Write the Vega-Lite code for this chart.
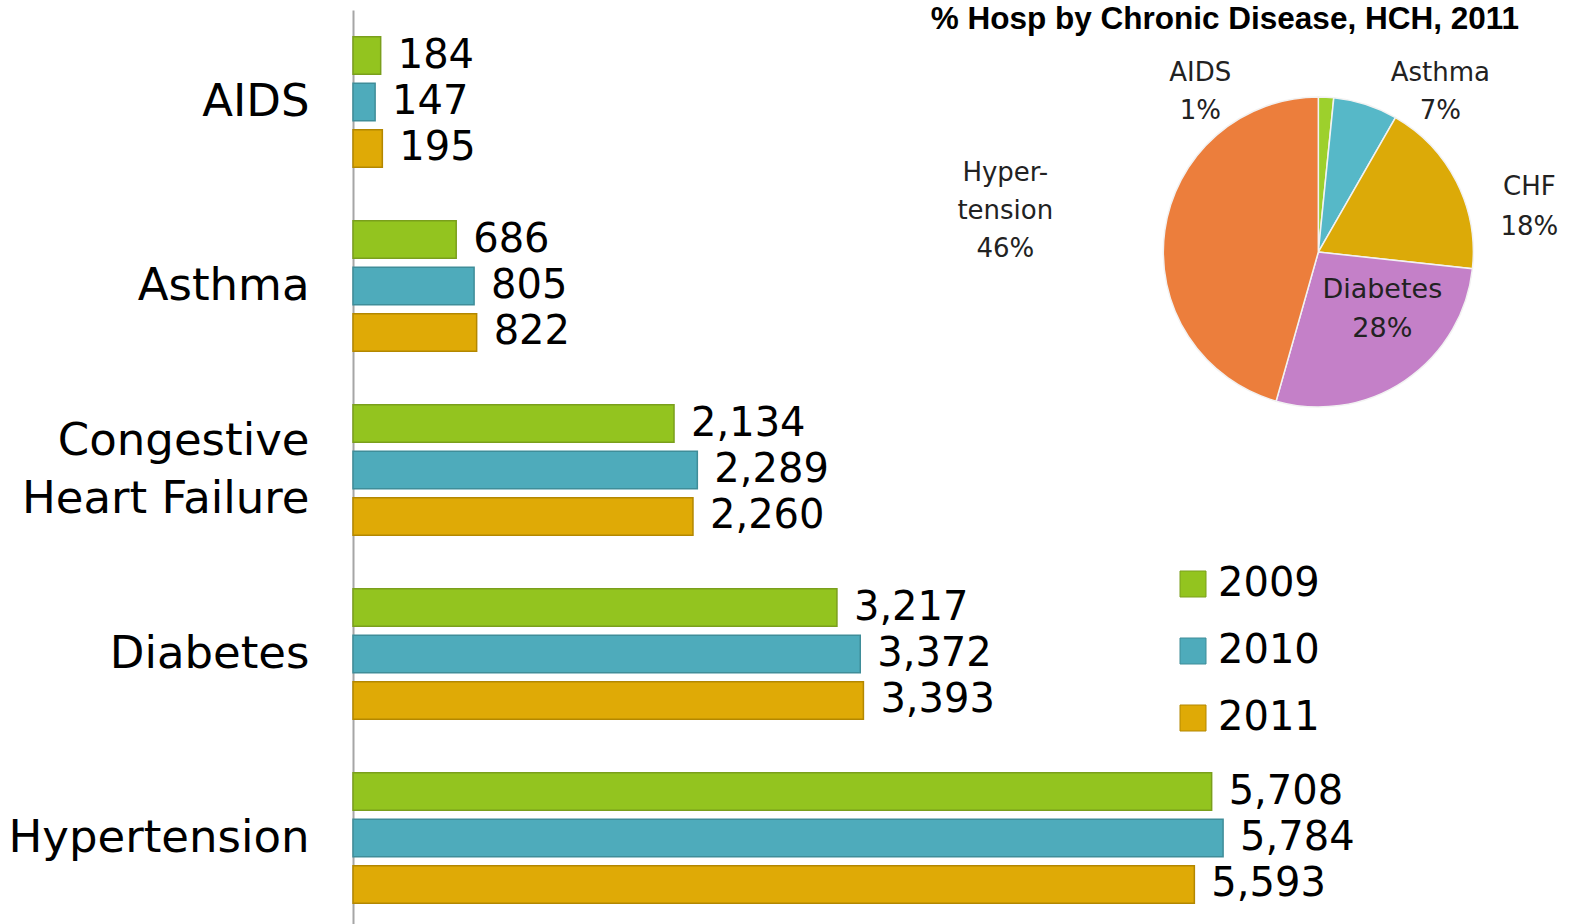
{
  "$schema": "https://vega.github.io/schema/vega-lite/v6.json",
  "autosize": "none",
  "width": 1223,
  "height": 920,
  "padding": {"left": 353, "top": 10, "right": 0, "bottom": 0},
  "background": "white",
  "config": {"view": {"stroke": null}, "font": "DejaVu Sans"},
  "title": {
    "text": "% Hosp by Chronic Disease, HCH, 2011",
    "anchor": "end",
    "frame": "group",
    "orient": "top",
    "offset": -50,
    "dx": -57,
    "fontSize": 31.5,
    "font": "Liberation Sans",
    "fontWeight": "bold",
    "baseline": "alphabetic",
    "color": "#000000"
  },
  "layer": [
    {
      "data": {
        "values": [
          {"disease": "AIDS", "year": "2009", "count": 184},
          {"disease": "AIDS", "year": "2010", "count": 147},
          {"disease": "AIDS", "year": "2011", "count": 195},
          {"disease": "Asthma", "year": "2009", "count": 686},
          {"disease": "Asthma", "year": "2010", "count": 805},
          {"disease": "Asthma", "year": "2011", "count": 822},
          {"disease": "Congestive Heart Failure", "year": "2009", "count": 2134},
          {"disease": "Congestive Heart Failure", "year": "2010", "count": 2289},
          {"disease": "Congestive Heart Failure", "year": "2011", "count": 2260},
          {"disease": "Diabetes", "year": "2009", "count": 3217},
          {"disease": "Diabetes", "year": "2010", "count": 3372},
          {"disease": "Diabetes", "year": "2011", "count": 3393},
          {"disease": "Hypertension", "year": "2009", "count": 5708},
          {"disease": "Hypertension", "year": "2010", "count": 5784},
          {"disease": "Hypertension", "year": "2011", "count": 5593}
        ]
      },
      "encoding": {
        "y": {
          "field": "disease",
          "type": "nominal",
          "scale": {"paddingInner": 0.29, "paddingOuter": 0.145},
          "axis": {
            "title": null,
            "ticks": false,
            "domain": true,
            "domainColor": "#a6a6a6",
            "domainWidth": 2,
            "labelFont": "DejaVu Sans",
            "labelFontSize": 45,
            "labelColor": "#000000",
            "labelPadding": 44,
            "labelLimit": 400,
            "labelLineHeight": 58,
            "labelOffset": {"condition": {"test": "datum.value == 'Congestive Heart Failure'", "value": -29}, "value": 0},
            "labelExpr": "datum.value == 'Congestive Heart Failure' ? ['Congestive', 'Heart Failure'] : datum.value"
          }
        },
        "yOffset": {"field": "year", "type": "nominal", "scale": {"paddingInner": 0.19, "paddingOuter": 0}},
        "x": {"field": "count", "type": "quantitative", "scale": {"domain": [0, 8130], "nice": false}, "axis": null}
      },
      "layer": [
        {
          "mark": {"type": "bar", "strokeWidth": 1.5},
          "encoding": {
            "color": {
              "field": "year",
              "type": "nominal",
              "scale": {"domain": ["2009", "2010", "2011"], "range": ["#93c41f", "#4eabbb", "#dfaa06"]},
              "legend": {
                "orient": "none",
                "legendX": 820,
                "legendY": 554,
                "title": null,
                "symbolType": "square",
                "symbolSize": 676,
                "symbolStrokeWidth": 1,
                "labelFont": "DejaVu Sans",
                "labelFontSize": 40,
                "labelColor": "#000000",
                "rowPadding": 27,
                "labelOffset": 5,
                "padding": 0
              }
            },
            "stroke": {
              "field": "year",
              "type": "nominal",
              "scale": {"domain": ["2009", "2010", "2011"], "range": ["#7a9f1c", "#3f8d99", "#b38700"]},
              "legend": null
            }
          }
        },
        {
          "mark": {"type": "text", "align": "left", "baseline": "middle", "dx": 17, "fontSize": 40, "font": "DejaVu Sans", "color": "#000000"},
          "encoding": {
            "text": {"field": "count", "type": "quantitative", "format": ","}
          }
        }
      ]
    },
    {
      "data": {
        "values": [
          {"disease": "AIDS", "value": 195, "label": "AIDS\n1%"},
          {"disease": "Asthma", "value": 822, "label": "Asthma\n7%"},
          {"disease": "Congestive Heart Failure", "value": 2260, "label": "CHF\n18%"},
          {"disease": "Diabetes", "value": 3393, "label": "Diabetes\n28%"},
          {"disease": "Hypertension", "value": 5593, "label": "Hyper-\ntension\n46%"}
        ]
      },
      "encoding": {
        "x": {"datum": 6417, "type": "quantitative"},
        "y": {"datum": "Asthma", "type": "nominal", "bandPosition": 0.24}
      },
      "layer": [
        {
          "mark": {"type": "arc", "outerRadius": 155, "stroke": "#f2f2f2", "strokeWidth": 1.5},
          "encoding": {
            "theta": {"field": "value", "type": "quantitative", "stack": true},
            "fill": {
              "field": "disease",
              "type": "nominal",
              "scale": {
                "domain": ["AIDS", "Asthma", "Congestive Heart Failure", "Diabetes", "Hypertension"],
                "range": ["#9dd02c", "#56b8c8", "#dcaa08", "#c480c8", "#ec7e3c"]
              },
              "legend": null
            }
          }
        },
        {
          "transform": [{"filter": "datum.disease == 'AIDS'"}],
          "mark": {"type": "text", "lineBreak": "\n", "lineHeight": 38, "fontSize": 26, "font": "DejaVu Sans", "color": "#222222", "align": "center", "baseline": "middle", "dx": -118, "dy": -179},
          "encoding": {"text": {"field": "label"}}
        },
        {
          "transform": [{"filter": "datum.disease == 'Asthma'"}],
          "mark": {"type": "text", "lineBreak": "\n", "lineHeight": 38, "fontSize": 26, "font": "DejaVu Sans", "color": "#222222", "align": "center", "baseline": "middle", "dx": 122, "dy": -179},
          "encoding": {"text": {"field": "label"}}
        },
        {
          "transform": [{"filter": "datum.disease == 'Congestive Heart Failure'"}],
          "mark": {"type": "text", "lineBreak": "\n", "lineHeight": 40, "fontSize": 26, "font": "DejaVu Sans", "color": "#222222", "align": "center", "baseline": "middle", "dx": 211, "dy": -65},
          "encoding": {"text": {"field": "label"}}
        },
        {
          "transform": [{"filter": "datum.disease == 'Diabetes'"}],
          "mark": {"type": "text", "lineBreak": "\n", "lineHeight": 39, "fontSize": 27, "font": "DejaVu Sans", "color": "#222222", "align": "center", "baseline": "middle", "dx": 64, "dy": 38},
          "encoding": {"text": {"field": "label"}}
        },
        {
          "transform": [{"filter": "datum.disease == 'Hypertension'"}],
          "mark": {"type": "text", "lineBreak": "\n", "lineHeight": 38, "fontSize": 26, "font": "DejaVu Sans", "color": "#222222", "align": "center", "baseline": "middle", "dx": -313, "dy": -79},
          "encoding": {"text": {"field": "label"}}
        }
      ]
    }
  ]
}
